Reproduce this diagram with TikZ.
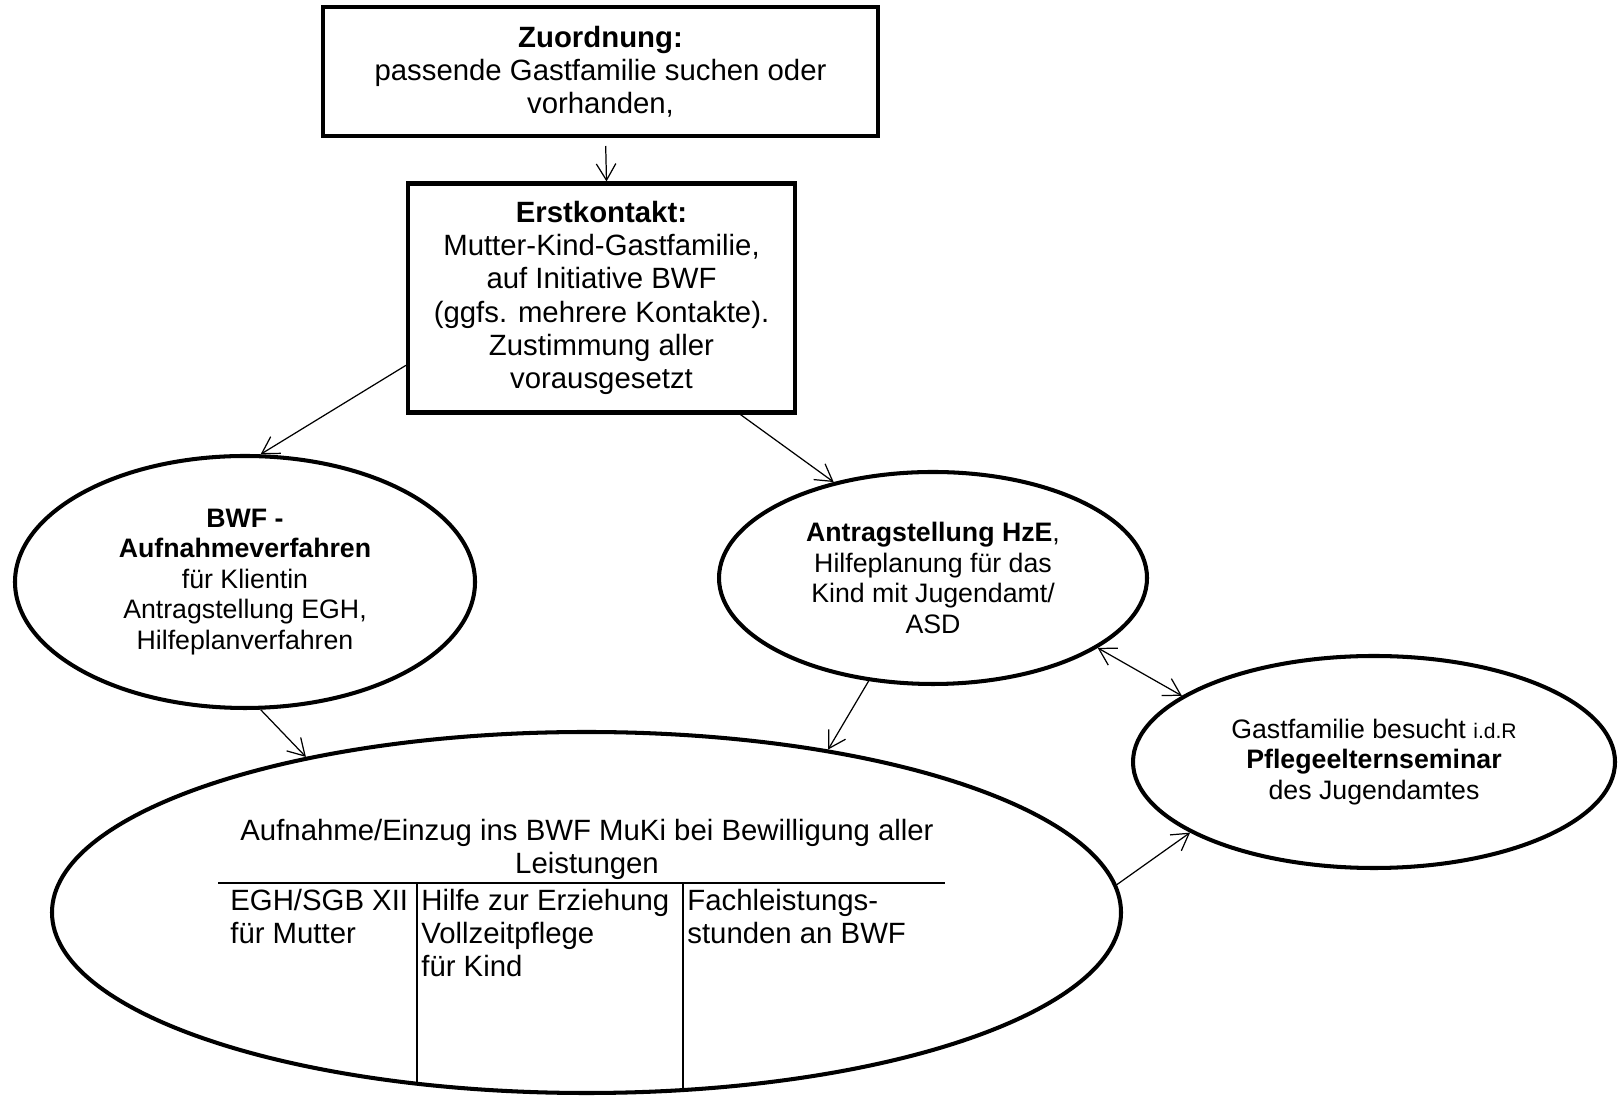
\documentclass[tikz,border=0pt]{standalone}
\usepackage{fontspec}
\setmainfont{Liberation Sans}
\usetikzlibrary{shapes.geometric, arrows.meta}

\newcommand{\grosstext}{\fontsize{16.7}{18.9}\selectfont}
\newcommand{\kleintext}{\fontsize{15.2}{17.4}\selectfont}

\tikzset{
  >={Straight Barb[length=0.33cm, width=0.39cm]},
  kasten/.style={draw, line width=2.3pt, inner sep=0pt, align=center, font=\grosstext},
  oval/.style={draw, ellipse, line width=2.3pt, inner sep=0pt, align=center, font=\kleintext},
  pfeil/.style={->, line width=0.7pt},
  zelle/.style={anchor=base west, inner sep=0pt, align=left, font=\grosstext},
}

\begin{document}
\begin{tikzpicture}
    \useasboundingbox (0,0) rectangle (32.4,21.92);

    \node[kasten, minimum width=11.1cm, minimum height=2.58cm] (zuord) at (12.01,20.49) {\textbf{Zuordnung:}\\passende Gastfamilie suchen oder\\vorhanden,};
    \node[kasten, minimum width=7.74cm, minimum height=4.58cm] (erst) at (12.03,15.96) {\textbf{Erstkontakt:}\\Mutter-Kind-Gastfamilie,\\auf Initiative BWF\\(ggfs. mehrere Kontakte).\\Zustimmung aller\\vorausgesetzt};

    \node[oval, minimum width=9.2cm, minimum height=5.04cm] (bwf) at (4.9,10.28) {\textbf{BWF -}\\\textbf{Aufnahmeverfahren}\\für Klientin\\Antragstellung EGH,\\Hilfeplanverfahren};
    \node[oval, minimum width=8.56cm, minimum height=4.24cm] (antrag) at (18.66,10.36) {\textbf{Antragstellung HzE},\\Hilfeplanung für das\\Kind mit Jugendamt/\\ASD};
    \node[oval, minimum width=9.64cm, minimum height=4.24cm] (gast) at (27.48,6.68) {Gastfamilie besucht {\fontsize{12}{14}\selectfont i.d.R}\\\textbf{Pflegeelternseminar}\\des Jugendamtes};
    \node[oval, minimum width=21.38cm, minimum height=7.22cm] (auf) at (11.73,3.67) {};

    % Aufnahme mit Leistungstabelle
    \node[font=\grosstext, align=center] (auftitel) at (11.74,4.93) {Aufnahme/Einzug ins BWF MuKi bei Bewilligung aller\\Leistungen};
    \draw[line width=1pt] (4.36,4.26) -- (18.9,4.26);
    \draw[line width=0.7pt] (8.34,4.26) -- (8.34,0.24);
    \draw[line width=0.7pt] (13.66,4.26) -- (13.66,0.12);
    \node[zelle] (egh) at (4.6,3.04) {EGH/SGB XII\\für Mutter};
    \node[zelle] (hze) at (8.42,2.38) {Hilfe zur Erziehung\\Vollzeitpflege\\für Kind};
    \node[zelle] (fls) at (13.74,3.04) {Fachleistungs-\\stunden an BWF};

    \draw[pfeil, shorten <=0.16cm] ([xshift=0.1cm]zuord.south) -- ([xshift=0.1cm]erst.north);
    \draw[pfeil] (erst.199) -- (bwf.83);
    \draw[pfeil] (erst.320) -- (antrag.136);
    \draw[pfeil] (bwf.277) -- (auf.151);
    \draw[pfeil] (antrag.238) -- (auf.34);
    \draw[pfeil, <->] (antrag.337) -- (gast.161);
    \draw[pfeil] (auf.3) -- (gast.201);
\end{tikzpicture}
\end{document}
